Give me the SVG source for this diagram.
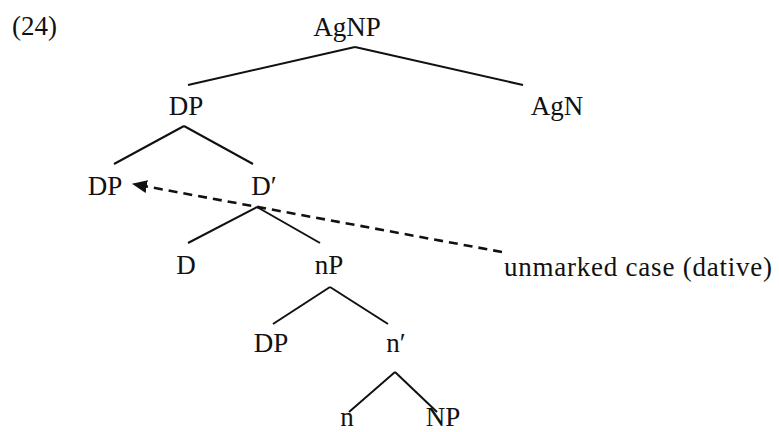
<svg xmlns="http://www.w3.org/2000/svg" width="779" height="432" viewBox="0 0 779 432">
<style>
text{font-family:"Liberation Serif","Times New Roman",serif;font-size:27px;fill:#111;}
.c{text-anchor:middle;}
.e{stroke:#111;stroke-width:2;fill:none;}
.d{stroke:#111;stroke-width:2.6;fill:none;stroke-dasharray:9 6;}
</style>
<defs>
<marker id="ah" markerWidth="15" markerHeight="13" refX="14" refY="6.5" orient="auto" markerUnits="userSpaceOnUse">
<path d="M0,0 L15,6.5 L0,13 Z" fill="#111"/>
</marker>
</defs>
<rect width="779" height="432" fill="#fff"/>
<text x="12" y="35">(24)</text>
<g id="connectors">
<line class="e" x1="355" y1="47" x2="188" y2="85"/>
<line class="e" x1="355" y1="47" x2="523" y2="85"/>
<line class="e" x1="184" y1="126" x2="114" y2="164"/>
<line class="e" x1="184" y1="126" x2="253" y2="164"/>
<line class="e" x1="257" y1="207" x2="188" y2="243"/>
<line class="e" x1="257" y1="207" x2="320" y2="243"/>
<line class="e" x1="330" y1="287" x2="273" y2="324"/>
<line class="e" x1="330" y1="287" x2="388" y2="324"/>
<line class="e" x1="395" y1="372" x2="349" y2="412"/>
<line class="e" x1="395" y1="372" x2="437" y2="412"/>
<line class="d" x1="502" y1="252" x2="133" y2="184" marker-end="url(#ah)"/>
</g>
<g id="AgNP"><text class="c" x="347" y="36">AgNP</text></g>
<g id="DP1"><text class="c" x="186" y="115">DP</text></g>
<g id="AgN"><text class="c" x="557" y="115">AgN</text></g>
<g id="DP2"><text class="c" x="105" y="195">DP</text></g>
<g id="Dbar"><text class="c" x="264" y="195">D′</text></g>
<g id="D"><text class="c" x="186" y="274">D</text></g>
<g id="nP"><text class="c" x="329" y="274">nP</text></g>
<g id="case"><text x="504" y="276" textLength="268" lengthAdjust="spacing">unmarked case (dative)</text></g>
<g id="DP3"><text class="c" x="271" y="352">DP</text></g>
<g id="nbar"><text class="c" x="396" y="352">n′</text></g>
<g id="n"><text class="c" x="347" y="426">n</text></g>
<g id="NP"><text class="c" x="443" y="426">NP</text></g>
</svg>
